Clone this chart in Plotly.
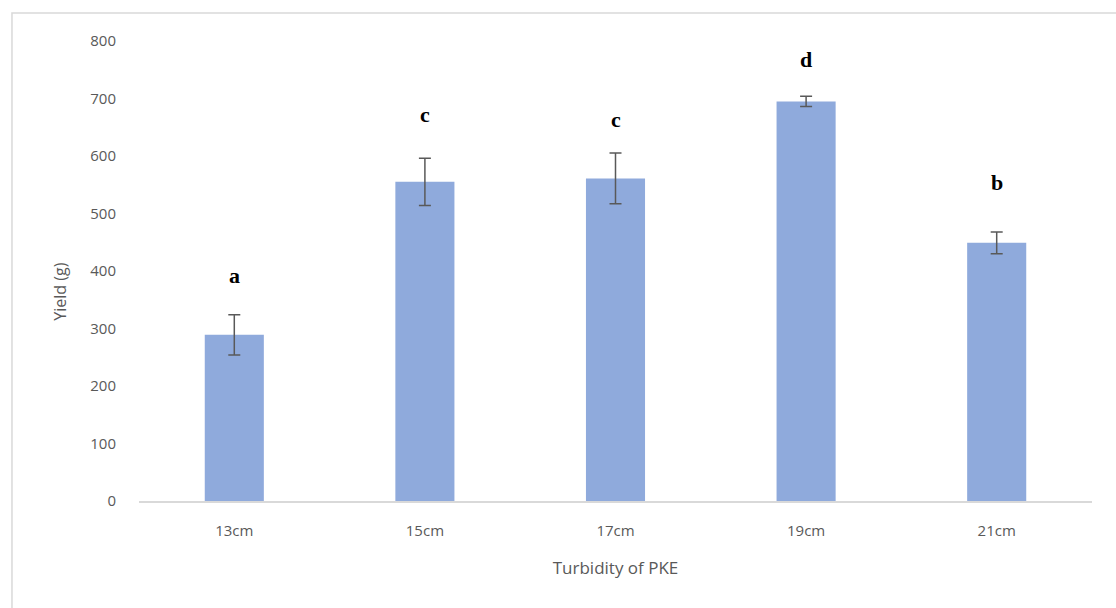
import plotly.graph_objects as go

# Yield by PKE turbidity, mean ± error, with significance letters
categories = ["13cm", "15cm", "17cm", "19cm", "21cm"]
yield_mean = [289, 555, 561, 695, 449]
yield_err = [35, 41, 44, 9, 19]
sig_letters = ["a", "c", "c", "d", "b"]
letter_y = [392, 672, 664, 768, 554]

fig = go.Figure()
fig.add_trace(go.Bar(
    x=categories,
    y=yield_mean,
    marker=dict(color="#8FAADC", line=dict(width=0)),
    error_y=dict(type="data", array=yield_err, visible=True,
                 color="#595959", thickness=1.5, width=6),
    width=0.31,
    showlegend=False,
))

for cat, txt, ly in zip(categories, sig_letters, letter_y):
    fig.add_annotation(
        x=cat, y=ly, text=f"<b>{txt}</b>", showarrow=False,
        font=dict(family="Liberation Serif", size=22, color="#000000"),
        xanchor="center", yanchor="middle",
    )

# y-axis title placed by hand
fig.add_annotation(
    xref="paper", yref="paper", x=-0.0829, y=0.455, text="Yield (g)",
    textangle=-90, showarrow=False,
    font=dict(family="Open Sans", size=16, color="#595959"),
    xanchor="center", yanchor="middle",
)

# outer chart border
fig.add_shape(
    type="rect", xref="paper", yref="paper",
    x0=-0.1333, x1=1.04, y0=-0.26, y1=1.0609,
    line=dict(color="#D9D9D9", width=1.5), fillcolor="rgba(0,0,0,0)",
    layer="below",
)

fig.update_layout(
    width=1116, height=608,
    margin=dict(l=139, r=24, t=41, b=107),
    paper_bgcolor="white", plot_bgcolor="white",
    font=dict(family="Open Sans", size=15, color="#595959"),
    bargap=0.69,
    xaxis=dict(
        showline=True, linecolor="#D9D9D9", linewidth=1.5,
        ticks="", showgrid=False, zeroline=False, ticklabelstandoff=15,
        tickfont=dict(family="Open Sans", size=15, color="#595959"),
        title=dict(text="Turbidity of PKE", standoff=23,
                   font=dict(family="Open Sans", size=17, color="#595959")),
    ),
    yaxis=dict(
        range=[0, 800], dtick=100, showgrid=False, zeroline=False,
        showline=False, ticks="", ticklabelstandoff=22,
        tickfont=dict(family="Open Sans", size=15, color="#595959"),
    ),
)

fig.write_html("out.html")
